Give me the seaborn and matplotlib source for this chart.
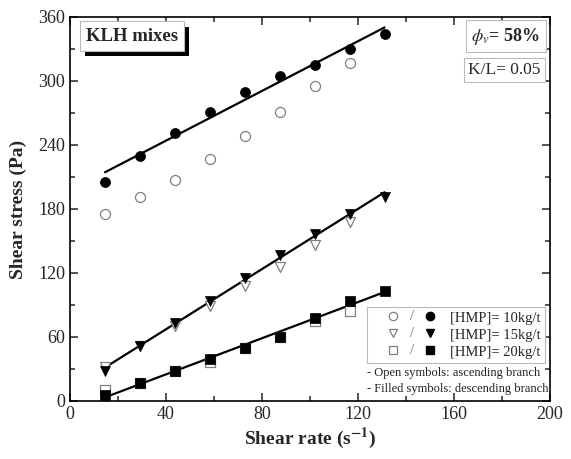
import matplotlib
matplotlib.use("Agg")
import matplotlib.pyplot as plt
import matplotlib.patheffects as pe
from matplotlib.legend_handler import HandlerBase
from matplotlib.lines import Line2D
from matplotlib.text import Text
from matplotlib.ticker import MultipleLocator
import seaborn as sns
import pandas as pd

# ---- data ----
shear_rate = [14.6, 29.2, 43.7, 58.3, 72.9, 87.4, 102.0, 116.5, 131.1]
asc_10 = [175, 191, 207, 227, 248, 271, 295, 317]
desc_10 = [205, 230, 251, 271, 290, 305, 315, 330, 344]
asc_15 = [32, 52, 70, 89, 108, 126, 146, 168]
desc_15 = [28, 52, 73, 94, 115, 137, 157, 175, 191]
asc_20 = [10, 17, 28, 37, 50, 60, 75, 84]
desc_20 = [6, 17, 28, 39, 50, 60, 78, 94, 103]
labels = ["[HMP]= 10kg/t", "[HMP]= 15kg/t", "[HMP]= 20kg/t"]
markers = ["o", "v", "s"]
x_ticks = [0, 40, 80, 120, 160, 200]
y_ticks = [0, 60, 120, 180, 240, 300, 360]

sns.set_style("ticks")
plt.rcParams["font.family"] = ["Liberation Serif", "DejaVu Serif"]
plt.rcParams["mathtext.fontset"] = "stix"

fig = plt.figure(figsize=(5.71, 4.59), dpi=100)
ax = fig.add_axes([0.1226, 0.1264, 0.8404, 0.8366])

OPEN_C = "#808080"
ms = 52
series = [(asc_10, desc_10), (asc_15, desc_15), (asc_20, desc_20)]
handles = []
for (asc, desc), mk, lab in zip(series, markers, labels):
    da = pd.DataFrame({"x": shear_rate[:len(asc)], "y": asc})
    dd = pd.DataFrame({"x": shear_rate[:len(desc)], "y": desc})
    sns.regplot(data=dd, x="x", y="y", scatter=False, ci=None, truncate=True,
                line_kws=dict(color="black", lw=1.6, zorder=2), ax=ax)
    sns.scatterplot(data=da, x="x", y="y", marker=mk, s=ms, facecolor="white",
                    edgecolor=OPEN_C, linewidth=0.9, ax=ax, zorder=3)
    sns.scatterplot(data=dd, x="x", y="y", marker=mk, s=ms, color="black",
                    edgecolor="black", linewidth=0.5, ax=ax, zorder=4)
    h_open = Line2D([], [], marker=mk, ls="none", markersize=6,
                    markerfacecolor="white", markeredgecolor=OPEN_C, markeredgewidth=0.9)
    h_fill = Line2D([], [], marker=mk, ls="none", markersize=6,
                    markerfacecolor="black", markeredgecolor="black")
    handles.append((h_open, h_fill))


class SlashHandler(HandlerBase):
    def create_artists(self, legend, orig_handle, xdescent, ydescent,
                       width, height, fontsize, trans):
        h_open, h_fill = orig_handle
        y = height / 2 - ydescent
        a = Line2D([0.32 * width - xdescent], [y], marker=h_open.get_marker(), ls="none",
                   markersize=h_open.get_markersize(), markerfacecolor="white",
                   markeredgecolor=OPEN_C, markeredgewidth=0.9, transform=trans)
        t = Text(0.61 * width - xdescent, y, "/", ha="center", va="center",
                 fontsize=fontsize, color="#777777", transform=trans)
        b = Line2D([0.875 * width - xdescent], [y], marker=h_fill.get_marker(), ls="none",
                   markersize=h_fill.get_markersize(), markerfacecolor="black",
                   markeredgecolor="black", transform=trans)
        return [a, t, b]


leg = ax.legend(handles, labels, handler_map={tuple: SlashHandler()},
                loc="lower left", bbox_to_anchor=(0.619, 0.099), fontsize=10.5,
                handlelength=4.6, handletextpad=0.8, borderpad=0.3,
                labelspacing=0.26, fancybox=False, framealpha=1,
                edgecolor="#bbbbbb", borderaxespad=0.0)
leg.get_frame().set_linewidth(0.8)

ax.text(0.619, 0.074, "- Open symbols: ascending branch", transform=ax.transAxes,
        fontsize=9, va="center", ha="left", color="#222222")
ax.text(0.619, 0.031, "- Filled symbols: descending branch", transform=ax.transAxes,
        fontsize=9, va="center", ha="left", color="#222222")

# KLH mixes box with shadow
klh = ax.text(0.033, 0.950, "KLH mixes", transform=ax.transAxes, fontsize=13.5,
              fontweight="bold", va="center", ha="left",
              bbox=dict(boxstyle="square,pad=0.33", fc="white", ec="#bbbbbb", lw=0.8),
              zorder=6)
klh.get_bbox_patch().set_path_effects([
    pe.SimplePatchShadow(offset=(3.6, -3.8), shadow_rgbFace="black", alpha=1.0),
    pe.Normal()])

ax.text(0.980, 0.950, r"$\mathit{\phi_v}$= 58%", transform=ax.transAxes, fontsize=13,
        fontweight="bold", va="center", ha="right",
        bbox=dict(boxstyle="square,pad=0.3", fc="white", ec="#bbbbbb", lw=0.8))
ax.text(0.980, 0.862, "K/L= 0.05", transform=ax.transAxes, fontsize=12.5,
        va="center", ha="right",
        bbox=dict(boxstyle="square,pad=0.25", fc="white", ec="#bbbbbb", lw=0.8))

ax.set_xlim(0, 200)
ax.set_ylim(0, 360)
ax.set_xticks(x_ticks)
ax.set_yticks(y_ticks)
ax.xaxis.set_minor_locator(MultipleLocator(20))
ax.yaxis.set_minor_locator(MultipleLocator(30))
ax.tick_params(which="both", direction="in", top=True, right=True, labelsize=13, width=1.1)
ax.tick_params(which="major", length=6)
ax.tick_params(which="minor", length=3.5)
for sp in ax.spines.values():
    sp.set_linewidth(1.2)
    sp.set_color("black")

ax.set_xlabel(r"Shear rate (s$^{\mathbf{-1}}$)", fontsize=14, fontweight="bold", labelpad=2)
ax.set_ylabel("Shear stress (Pa)", fontsize=14, fontweight="bold", labelpad=8)

fig.savefig("out.png", dpi=100)
